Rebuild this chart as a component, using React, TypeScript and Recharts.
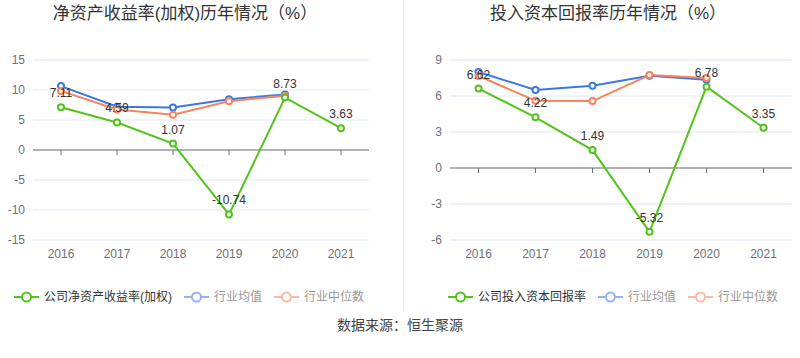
import React from 'react';
import { LineChart, Line, XAxis, YAxis, CartesianGrid, ReferenceLine, ReferenceDot, LabelList } from 'recharts';

const years = ['2016', '2017', '2018', '2019', '2020', '2021'];

const roeCompany = [7.11, 4.59, 1.07, -10.74, 8.73, 3.63];
const roeMean: (number | null)[] = [10.65, 7.2, 7.08, 8.47, 9.25, null];
const roeMedian: (number | null)[] = [9.85, 6.75, 5.87, 8.13, 9.03, null];
const roeTicks = [-15, -10, -5, 0, 5, 10, 15];

const roicCompany = [6.62, 4.22, 1.49, -5.32, 6.78, 3.35];
const roicMean: (number | null)[] = [8.0, 6.5, 6.86, 7.69, 7.36, null];
const roicMedian: (number | null)[] = [7.67, 5.61, 5.58, 7.75, 7.5, null];
const roicTicks = [-6, -3, 0, 3, 6, 9];

const roeTitle = '净资产收益率(加权)历年情况（%）';
const roicTitle = '投入资本回报率历年情况（%）';
const roeLegend = ['公司净资产收益率(加权)', '行业均值', '行业中位数'];
const roicLegend = ['公司投入资本回报率', '行业均值', '行业中位数'];
const sourceText = '数据来源：恒生聚源';

const GREEN = '#52c41a';
const BLUE = '#3a78e6';
const ORANGE = '#f7845c';
const FONT = '"Liberation Sans", "Noto Sans CJK SC", sans-serif';

const buildData = (c: number[], m: (number | null)[], d: (number | null)[]) =>
  years.map((y, i) => ({ year: y, company: c[i], mean: m[i], median: d[i] }));

const ZeroTick = (props: any) => {
  const { cx, cy } = props;
  return <line x1={cx} x2={cx} y1={cy} y2={cy + 5} stroke="#6e7079" strokeWidth={1} />;
};

const LegendIcon = ({ color, opacity }: { color: string; opacity: number }) => (
  <svg width={25} height={14} style={{ opacity, display: 'block' }}>
    <line x1={0} x2={25} y1={7} y2={7} stroke={color} strokeWidth={2} />
    <circle cx={12.5} cy={7} r={4.5} fill="#fff" stroke={color} strokeWidth={2} />
  </svg>
);

const LegendRow = ({ labels, left }: { labels: string[]; left: number }) => {
  const colors = [GREEN, BLUE, ORANGE];
  return (
    <div style={{ position: 'absolute', left, top: 290, display: 'flex', alignItems: 'center', fontSize: 12, fontFamily: FONT }}>
      {labels.map((l, i) => (
        <div key={l} style={{ display: 'flex', alignItems: 'center', marginRight: 12 }}>
          <LegendIcon color={colors[i]} opacity={i === 0 ? 1 : 0.55} />
          <span style={{ marginLeft: 5, color: i === 0 ? '#333' : '#999', lineHeight: '14px' }}>{l}</span>
        </div>
      ))}
    </div>
  );
};

const Chart = ({ data, ticks, domain, yWidth, marginRight, pad }: any) => (
  <LineChart width={400} height={270} data={data} margin={{ top: 60, right: marginRight, left: 0, bottom: 0 }}>
    <CartesianGrid vertical={false} stroke="#e0e6f1" />
    <XAxis
      dataKey="year"
      axisLine={false}
      tickLine={false}
      tickMargin={3}
      height={30}
      padding={{ left: pad, right: pad }}
      tick={{ fill: '#6e7079', fontSize: 12, fontFamily: FONT }}
    />
    <YAxis
      type="number"
      domain={domain}
      ticks={ticks}
      width={yWidth}
      axisLine={false}
      tickLine={false}
      interval={0}
      tick={{ fill: '#6e7079', fontSize: 12, fontFamily: FONT }}
    />
    <ReferenceLine y={0} stroke="#6e7079" strokeWidth={1} />
    {years.map((y) => (
      <ReferenceDot key={y} x={y} y={0} r={0} shape={ZeroTick} />
    ))}
    <Line type="linear" dataKey="mean" stroke={BLUE} strokeWidth={2} dot={{ r: 3, fill: '#fff', strokeWidth: 2 }} isAnimationActive={false} />
    <Line type="linear" dataKey="median" stroke={ORANGE} strokeWidth={2} dot={{ r: 3, fill: '#fff', strokeWidth: 2 }} isAnimationActive={false} />
    <Line type="linear" dataKey="company" stroke={GREEN} strokeWidth={2} dot={{ r: 3, fill: '#fff', strokeWidth: 2 }} isAnimationActive={false}>
      <LabelList dataKey="company" position="top" offset={10} fill="#333" fontSize={12} fontFamily={FONT} />
    </Line>
  </LineChart>
);

export default function App() {
  return (
    <div style={{ position: 'absolute', left: 0, top: 0, width: 800, height: 358, background: '#fff', fontFamily: FONT, overflow: 'hidden' }}>
      <div style={{ position: 'absolute', left: 0, top: 3, width: 370, textAlign: 'center', fontSize: 17, color: '#333', lineHeight: '22px' }}>{roeTitle}</div>
      <div style={{ position: 'absolute', left: 400, top: 3, width: 416, textAlign: 'center', fontSize: 17, color: '#333', lineHeight: '22px' }}>{roicTitle}</div>
      <div style={{ position: 'absolute', left: 403, top: 0, width: 1, height: 310, background: '#eeeeee' }} />
      <div style={{ position: 'absolute', left: 0, top: 0 }}>
        <Chart data={buildData(roeCompany, roeMean, roeMedian)} ticks={roeTicks} domain={[-15, 15]} yWidth={33} marginRight={31} pad={28} />
      </div>
      <div style={{ position: 'absolute', left: 400, top: 0 }}>
        <Chart data={buildData(roicCompany, roicMean, roicMedian)} ticks={roicTicks} domain={[-6, 9]} yWidth={50} marginRight={8} pad={28.5} />
      </div>
      <LegendRow labels={roeLegend} left={14} />
      <LegendRow labels={roicLegend} left={448} />
      <div style={{ position: 'absolute', left: 0, top: 315, width: 800, textAlign: 'center', fontSize: 14, color: '#444', lineHeight: '20px' }}>{sourceText}</div>
    </div>
  );
}
